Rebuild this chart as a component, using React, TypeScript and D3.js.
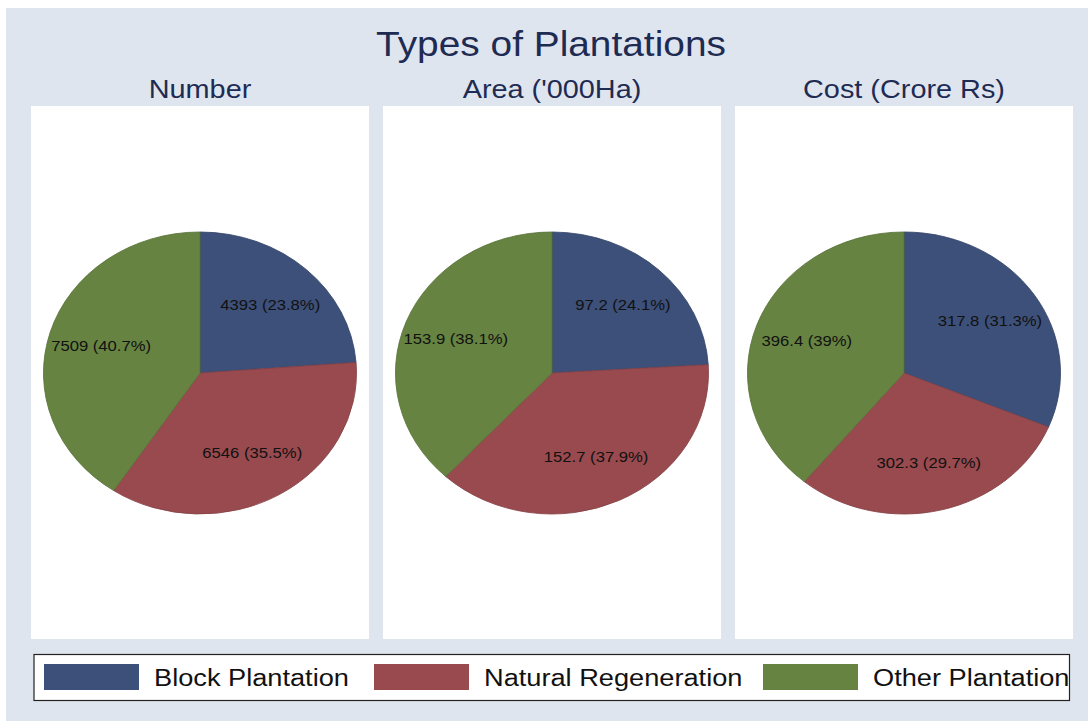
import React, { useRef, useEffect } from "react"
import * as d3 from "d3"

const title = "Types of Plantations"
const categories = ["Block Plantation", "Natural Regeneration", "Other Plantation"]
const colors = ["#3d5079", "#994a4f", "#668341"]

const panelTitles = ["Number", "Area ('000Ha)", "Cost (Crore Rs)"]
const numberValues = [4393, 6546, 7509]
const numberLabels = ["4393", "6546", "7509"]
const numberPct = ["23.8%", "35.5%", "40.7%"]
const areaValues = [97.2, 152.7, 153.9]
const areaLabels = ["97.2", "152.7", "153.9"]
const areaPct = ["24.1%", "37.9%", "38.1%"]
const costValues = [317.8, 302.3, 396.4]
const costLabels = ["317.8", "302.3", "396.4"]
const costPct = ["31.3%", "29.7%", "39%"]

const W = 1088
const H = 721
const SX = 1.11 // horizontal stretch of the original picture
const FONT = "'Liberation Sans', Arial, Helvetica, sans-serif"

function App() {
  const ref = useRef<SVGSVGElement>(null)

  useEffect(() => {
    const svg = d3.select(ref.current)
    svg.selectAll("*").remove()

    svg.append("rect").attr("width", W).attr("height", H).attr("fill", "#ffffff")
    svg
      .append("rect")
      .attr("x", 6)
      .attr("y", 8)
      .attr("width", W - 6)
      .attr("height", H - 8)
      .attr("fill", "#dfe5ef")

    const stretchText = (
      g: any,
      x: number,
      y: number,
      txt: string,
      size: number,
      color: string,
      anchor = "middle"
    ) =>
      g
        .append("text")
        .attr("transform", `translate(${x},${y}) scale(${SX},1)`)
        .attr("text-anchor", anchor)
        .attr("font-family", FONT)
        .attr("font-size", size)
        .attr("fill", color)
        .text(txt)

    stretchText(svg, 551, 56, title, 35, "#1e2b52")

    const panels = [
      { name: panelTitles[0], values: numberValues, labels: numberLabels, pct: numberPct },
      { name: panelTitles[1], values: areaValues, labels: areaLabels, pct: areaPct },
      { name: panelTitles[2], values: costValues, labels: costLabels, pct: costPct },
    ]

    // panel left edges: 31, 383, 735
    const panelX = d3.scaleLinear().domain([0, 1]).range([31, 383])
    const pW = 338
    const pTop = 106
    const pBottom = 639
    const ry = 141
    const rx = 156.5

    const pie = d3
      .pie<number>()
      .sort(null)
      .value(d => d)
    const arc = d3.arc<d3.PieArcDatum<number>>().innerRadius(0).outerRadius(ry)
    const labelArc = d3
      .arc<d3.PieArcDatum<number>>()
      .innerRadius(ry * 0.66)
      .outerRadius(ry * 0.66)

    panels.forEach((p, i) => {
      const x0 = panelX(i)
      const cx = x0 + pW / 2
      const cy = 373
      svg
        .append("rect")
        .attr("x", x0)
        .attr("y", pTop)
        .attr("width", pW)
        .attr("height", pBottom - pTop)
        .attr("fill", "#ffffff")

      stretchText(svg, cx, 98, p.name, 26, "#1e2b52")

      const g = svg.append("g").attr("transform", `translate(${cx},${cy}) scale(${rx / ry},1)`)
      const arcs = pie(p.values)
      g.selectAll("path")
        .data(arcs)
        .join("path")
        .attr("d", arc)
        .attr("fill", (d, j) => colors[j])
        .attr("stroke", (d, j) => d3.color(colors[j])!.darker(0.4).toString())
        .attr("stroke-width", 0.8)

      arcs.forEach((d, j) => {
        const [lx, ly] = labelArc.centroid(d)
        stretchText(
          svg,
          cx + lx * (rx / ry),
          cy + ly + 5,
          `${p.labels[j]} (${p.pct[j]})`,
          15,
          "#111111"
        )
      })
    })

    // legend
    const lg = svg.append("g")
    lg.append("rect")
      .attr("x", 34)
      .attr("y", 654.5)
      .attr("width", 1035.5)
      .attr("height", 46)
      .attr("fill", "#ffffff")
      .attr("stroke", "#222222")
      .attr("stroke-width", 1.2)
    const swatchX = [44, 374, 763]
    categories.forEach((c, j) => {
      lg.append("rect")
        .attr("x", swatchX[j])
        .attr("y", 664)
        .attr("width", 95)
        .attr("height", 26)
        .attr("fill", colors[j])
      stretchText(lg, swatchX[j] + 110, 686, c, 24.5, "#111111", "start")
    })
  }, [])

  return (
    <div style={{ position: "absolute", left: 0, top: 0 }}>
      <svg ref={ref} width={W} height={H} style={{ display: "block" }}></svg>
    </div>
  )
}

export default App
